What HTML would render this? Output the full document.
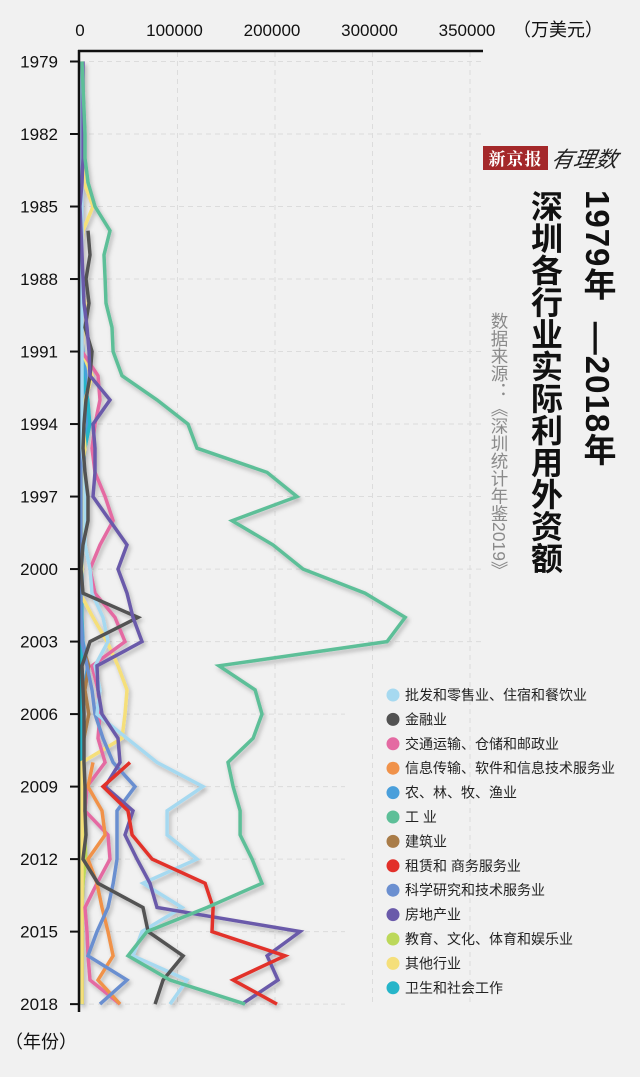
<!DOCTYPE html>
<html><head><meta charset="utf-8"><style>
html,body{margin:0;padding:0;background:#f1f1f1;}
body{width:640px;height:1077px;position:relative;overflow:hidden;font-family:"Liberation Sans","Noto Sans CJK SC",sans-serif;}
.v{position:absolute;writing-mode:vertical-rl;white-space:nowrap;}
</style></head><body>
<svg id="chart" width="640" height="1077" style="position:absolute;left:0;top:0">
<defs><filter id="sh" x="-20%" y="-20%" width="140%" height="140%"><feDropShadow dx="2" dy="3" stdDeviation="2" flood-color="#000" flood-opacity="0.25"/></filter></defs>
<g id="grid"></g><g id="series" filter="url(#sh)"></g><g id="axes"></g><g id="legend"></g>
</svg>
<div style="position:absolute;left:483px;top:146px;width:65px;height:24px;background:#a4282a;color:#fff;font-family:'Noto Serif CJK SC',serif;font-weight:bold;font-size:17px;line-height:24px;text-align:center;letter-spacing:1px">新京报</div>
<div style="position:absolute;left:552px;top:142px;font-size:22px;font-style:italic;color:#222;font-family:'Noto Sans CJK SC',sans-serif;transform:skewX(-10deg)">有理数</div>
<div class="v" style="left:580px;top:190px;font-size:33px;font-weight:bold;color:#111;line-height:34px;letter-spacing:1px">1979年&nbsp;&nbsp;—2018年</div>
<div class="v" style="left:528px;top:190px;font-size:32px;font-weight:bold;color:#111;line-height:34px;letter-spacing:0px">深圳各行业实际利用外资额</div>
<div class="v" style="left:489px;top:312px;font-size:17.5px;color:#8a8a8a;line-height:20px">数据来源：《深圳统计年鉴2019》</div>
<script>
const years=[];for(let y=1979;y<=2018;y++)years.push(y);
const xTickValues=[0,100000,200000,300000,400000];
const xTickLabels=["0","100000","200000","300000","350000"];
const yTickYears=[1979,1982,1985,1988,1991,1994,1997,2000,2003,2006,2009,2012,2015,2018];
const seriesNames=["批发和零售业、住宿和餐饮业","金融业","交通运输、仓储和邮政业","信息传输、软件和信息技术服务业","农、林、牧、渔业","工 业","建筑业","租赁和 商务服务业","科学研究和技术服务业","房地产业","教育、文化、体育和娱乐业","其他行业","卫生和社会工作"];
const seriesColors=["#a6d9f0","#525252","#e46aa2","#f0924a","#4a9fdb","#5dbf98","#a97c48","#e2302a","#6b8fd0","#6a5aaa","#bcd85a","#f5df7a","#26b5c9"];
const sWholesale=[2100,2100,2100,2100,2100,2100,2100,2100,2100,2100,2100,2100,2100,2100,2100,2100,2100,5100,5100,5100,5100,10300,12300,23600,28700,15400,20500,17400,48200,79000,126200,89300,89300,120000,64600,104700,63600,54400,109800,92300];
const sFinance=[null,null,null,null,null,null,null,8200,10300,6200,9200,5100,12300,10300,6200,4100,3100,5100,8200,8200,3100,1000,3100,59500,10300,2100,3100,4100,4100,4100,5100,5100,6200,3100,18500,64600,69800,105700,85200,77000];
const sTransport=[2100,2100,2100,2100,2100,2100,2100,2100,2100,2100,2100,2100,2100,18500,20500,15400,12300,15400,25700,33900,20500,10300,15400,35900,46200,12300,18500,20500,18500,25700,7200,5100,28700,30800,17400,5100,7200,8200,10300,41000];
const sInfo=[null,null,null,null,null,null,null,null,null,null,null,null,null,null,null,null,null,null,null,null,null,null,null,null,null,null,null,null,null,13300,8200,22600,25700,8200,17400,22600,28700,33900,18500,41000];
const sAgri=[1000,1000,1000,1000,1000,1000,1000,1000,1000,1000,1000,1000,3000,6000,4000,8000,5000,3000,2000,2000,2000,2000,2000,2000,3000,8000,4000,3000,2000,2000,2000,2000,2000,2000,2000,2000,2000,2000,2000,2000];
const sIndustry=[2100,3100,4100,5100,5100,8200,15400,30800,24600,25700,26700,32800,33900,43100,79000,110800,120000,191900,222600,156000,198000,228800,292400,333500,315000,142600,179600,186700,177500,151800,157000,164200,164200,176500,186700,130300,68700,49200,92300,169300];
const sConstruction=[1000,1000,1000,1000,1000,1000,1000,1000,1000,1000,1000,1000,1000,1000,1000,1000,1000,1000,1000,1000,1000,1000,1000,1000,1000,9000,5000,9000,4000,2000,2000,2000,2000,3000,3000,2000,2000,2000,2000,2000];
const sRental=[null,null,null,null,null,null,null,null,null,null,null,null,null,null,null,null,null,null,null,null,null,null,null,null,null,null,null,null,null,51300,23600,49200,53400,73900,128300,136500,135400,210300,157000,202100];
const sScience=[1000,1000,1000,1000,1000,1000,1000,1000,1000,1000,1000,1000,1000,1000,1000,1000,1000,1000,1000,1000,1000,1000,1000,1000,2100,7200,12300,15400,23600,33900,56400,38000,38000,38000,34000,28700,17400,8200,48200,20500];
const sRealEstate=[3100,3100,3100,3100,3100,2100,0,1000,2100,3100,4100,7200,9200,10300,30800,13300,15400,15400,13300,30800,48200,39000,48200,54400,63600,17400,18500,22600,39000,41000,25700,54400,46200,58500,71800,79000,225700,191900,203100,166200];
const sEducation=[1500,1500,1500,1500,1500,1500,1500,1500,1500,1500,1500,1500,1500,1500,1500,1500,1500,1500,1500,1500,1500,1500,1500,1500,1500,1500,1500,1500,1500,2000,2000,3000,5000,6000,3000,2000,2000,2000,2000,2000];
const sOther=[1000,2100,2100,2100,3100,4100,13300,3100,1000,0,5100,3100,2100,12300,5100,3100,5100,2100,3100,2100,1000,2100,0,13300,27700,39000,48200,46200,43100,2000,2000,2000,2000,2000,2000,2000,2000,2000,2000,2000];
const sHealth=[1000,1000,1000,1000,1000,1000,1000,1000,1000,1000,1000,1000,1000,3000,8000,10000,5000,2000,1500,1500,1500,1500,1500,1500,1500,1500,1500,1500,1500,1500,1500,1500,1500,1500,1500,1500,1500,1500,1500,1500];
const allSeries=[sWholesale,sFinance,sTransport,sInfo,sAgri,sIndustry,sConstruction,sRental,sScience,sRealEstate,sEducation,sOther,sHealth];
const drawOrder=[4,6,10,12,11,2,3,8,0,1,9,7,5];

const NS="http://www.w3.org/2000/svg";
function xS(v){return 80+v*0.000975;}
function yS(yr){return 61.5+(yr-1979)*24.17;}
function mk(tag,attrs,parent){const e=document.createElementNS(NS,tag);for(const k in attrs)e.setAttribute(k,attrs[k]);parent.appendChild(e);return e;}
const grid=document.getElementById('grid'),axes=document.getElementById('axes'),ser=document.getElementById('series'),leg=document.getElementById('legend');
xTickValues.forEach((v,i)=>{
 if(i>0){const g=mk('line',{x1:xS(v),x2:xS(v),y1:52,y2:1005,stroke:'#dcdcdc','stroke-dasharray':'5,4','stroke-width':1},grid);
 
 }
 const t=mk('text',{x:xS(v)-(i>0?3:0),y:36,'text-anchor':'middle','font-size':17,fill:'#111'},axes);
 t.textContent=xTickLabels[i];
 
 
});
yTickYears.forEach(yr=>{
 const y=yS(yr);
 const g=mk('line',{x1:80,x2:(y<680?483:345),y1:y,y2:y,stroke:'#dcdcdc','stroke-dasharray':'5,4','stroke-width':1},grid);
 
 
 const tk=mk('line',{x1:70,x2:80,y1:y,y2:y,stroke:'#111','stroke-width':2},axes);
 
 
 const t=mk('text',{x:58,y:y+6,'text-anchor':'end','font-size':17,fill:'#111'},axes);
 t.textContent=String(yr);
 
 
});
const xa=mk('line',{x1:78,x2:483,y1:51,y2:51,stroke:'#111','stroke-width':2.5},axes);


const ya=mk('line',{x1:79,x2:79,y1:50,y2:1012,stroke:'#111','stroke-width':2.5},axes);


const ut=mk('text',{x:513,y:36,'font-size':18,fill:'#111'},axes);ut.textContent='（万美元）';


const yt=mk('text',{x:5,y:1048,'font-size':18,fill:'#111'},axes);yt.textContent='（年份）';


drawOrder.forEach(i=>{
 const d=allSeries[i];let path='',pen=false;
 d.forEach((v,j)=>{if(v===null){pen=false;return;}path+=(pen?'L':'M')+xS(v).toFixed(1)+','+yS(years[j]).toFixed(1);pen=true;});
 const p=mk('path',{d:path,fill:'none',stroke:seriesColors[i],'stroke-width':3.5,'stroke-linejoin':'miter'},ser);
 
 
});
seriesNames.forEach((n,i)=>{
 const y=695+i*24.4;
 const c=mk('circle',{cx:393,cy:y,r:6.5,fill:seriesColors[i]},leg);
 
 
 const t=mk('text',{x:405,y:y+5,'font-size':14,fill:'#222'},leg);t.textContent=n;
 
 
});
</script>
</body></html>
